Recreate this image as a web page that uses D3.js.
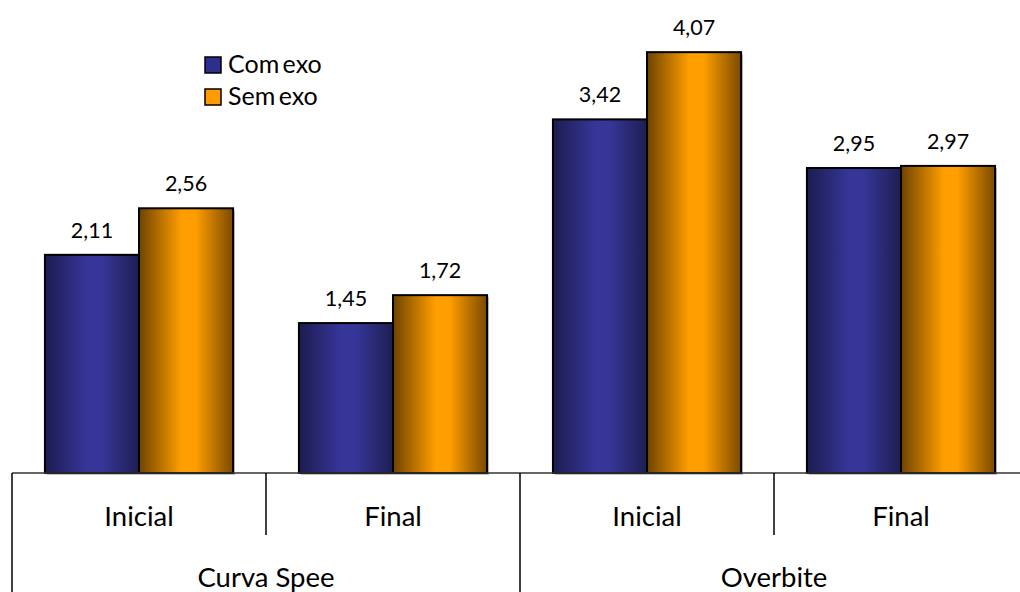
<!DOCTYPE html>
<html>
<head>
<meta charset="utf-8">
<script src="https://cdn.jsdelivr.net/npm/d3@7"></script>
<style>
  html, body { margin: 0; padding: 0; background: #fff; }
  svg { display: block; font-family: Lato, "Open Sans", sans-serif; }
</style>
</head>
<body>
<svg id="chart" width="1020" height="592"></svg>
<script>
// Grouped bars: two measures, each with an initial and final reading
const groups = ["Curva Spee", "Overbite"];
const phases = ["Inicial", "Final", "Inicial", "Final"];
const seriesNames = ["Com exo", "Sem exo"];
const comExo = [2.11, 1.45, 3.42, 2.95];
const semExo = [2.56, 1.72, 4.07, 2.97];

const svg = d3.select("#chart");
const W = 1020, H = 592;
const left = 12, right = 1028, baseY = 473;

const x = d3.scaleBand().domain(d3.range(phases.length)).range([left, right]).paddingInner(0).paddingOuter(0);
const xSeries = d3.scaleBand().domain(seriesNames).range([0, x.bandwidth()]).paddingInner(0).paddingOuter(0.35);
const y = d3.scaleLinear().domain([0, 4.5]).range([baseY, baseY - 4.5 * 103.4]);

const defs = svg.append("defs");
function grad(id, edgeL, mid, edgeR) {
  const g = defs.append("linearGradient").attr("id", id).attr("x1", "0").attr("x2", "1").attr("y1", "0").attr("y2", "0");
  g.append("stop").attr("offset", "0%").attr("stop-color", edgeL);
  g.append("stop").attr("offset", "45%").attr("stop-color", mid);
  g.append("stop").attr("offset", "60%").attr("stop-color", mid);
  g.append("stop").attr("offset", "100%").attr("stop-color", edgeR);
}
grad("gBlue", "#1c1c50", "#363699", "#1e1e52");
grad("gOrange", "#6e4300", "#ff9e00", "#7a4a00");
const fills = { "Com exo": "url(#gBlue)", "Sem exo": "url(#gOrange)" };
const legendFills = { "Com exo": "#2e2e8f", "Sem exo": "#ff9a00" };

const rows = phases.map((p, i) => ({ i, values: [
  { s: "Com exo", v: comExo[i] },
  { s: "Sem exo", v: semExo[i] }
]}));

const g = svg.append("g");
const cat = g.selectAll("g.cat").data(rows).join("g").attr("class", "cat")
  .attr("transform", d => `translate(${x(d.i)},0)`);

// soft shadow
cat.selectAll("rect.sh").data(d => d.values).join("rect").attr("class", "sh")
  .attr("x", d => xSeries(d.s) + 2).attr("y", d => y(d.v) + 2)
  .attr("width", xSeries.bandwidth()).attr("height", d => baseY - y(d.v))
  .attr("fill", "#9a9a9a").attr("opacity", 0.6);

cat.selectAll("rect.bar").data(d => d.values).join("rect").attr("class", "bar")
  .attr("x", d => xSeries(d.s)).attr("y", d => y(d.v))
  .attr("width", xSeries.bandwidth()).attr("height", d => baseY - y(d.v))
  .attr("fill", d => fills[d.s]).attr("stroke", "#000").attr("stroke-width", 2);

cat.selectAll("text.val").data(d => d.values).join("text").attr("class", "val")
  .attr("x", d => xSeries(d.s) + xSeries.bandwidth() / 2)
  .attr("y", d => y(d.v) - 17)
  .attr("text-anchor", "middle").attr("font-size", 21.5).attr("fill", "#000")
  .text(d => d3.format(".2f")(d.v).replace(".", ","));

// category axis with two label levels
const axis = svg.append("g").attr("stroke", "#000").attr("stroke-width", 1.5);
axis.append("line").attr("x1", left).attr("x2", right).attr("y1", baseY).attr("y2", baseY).attr("stroke", "#333");
d3.range(phases.length + 1).forEach(k => {
  const xx = left + k * x.bandwidth();
  const major = k % 2 === 0;
  axis.append("line").attr("x1", xx).attr("x2", xx).attr("y1", baseY).attr("y2", major ? H : 535);
});

svg.append("g").selectAll("text").data(phases).join("text")
  .attr("x", (d, i) => x(i) + x.bandwidth() / 2).attr("y", 526)
  .attr("text-anchor", "middle").attr("font-size", 27.5).text(d => d);

svg.append("g").selectAll("text").data(groups).join("text")
  .attr("x", (d, i) => left + (i * 2 + 1) * x.bandwidth()).attr("y", 587)
  .attr("text-anchor", "middle").attr("font-size", 27.5).text(d => d);

// legend
const leg = svg.append("g").attr("transform", "translate(205,57)");
const li = leg.selectAll("g").data(seriesNames).join("g").attr("transform", (d, i) => `translate(0,${i * 32})`);
li.append("rect").attr("width", 16).attr("height", 16).attr("fill", d => legendFills[d]).attr("stroke", "#000").attr("stroke-width", 1.5);
li.append("text").attr("x", 23).attr("y", 16).attr("font-size", 25).attr("word-spacing", -3).text(d => d);
</script>
</body>
</html>
